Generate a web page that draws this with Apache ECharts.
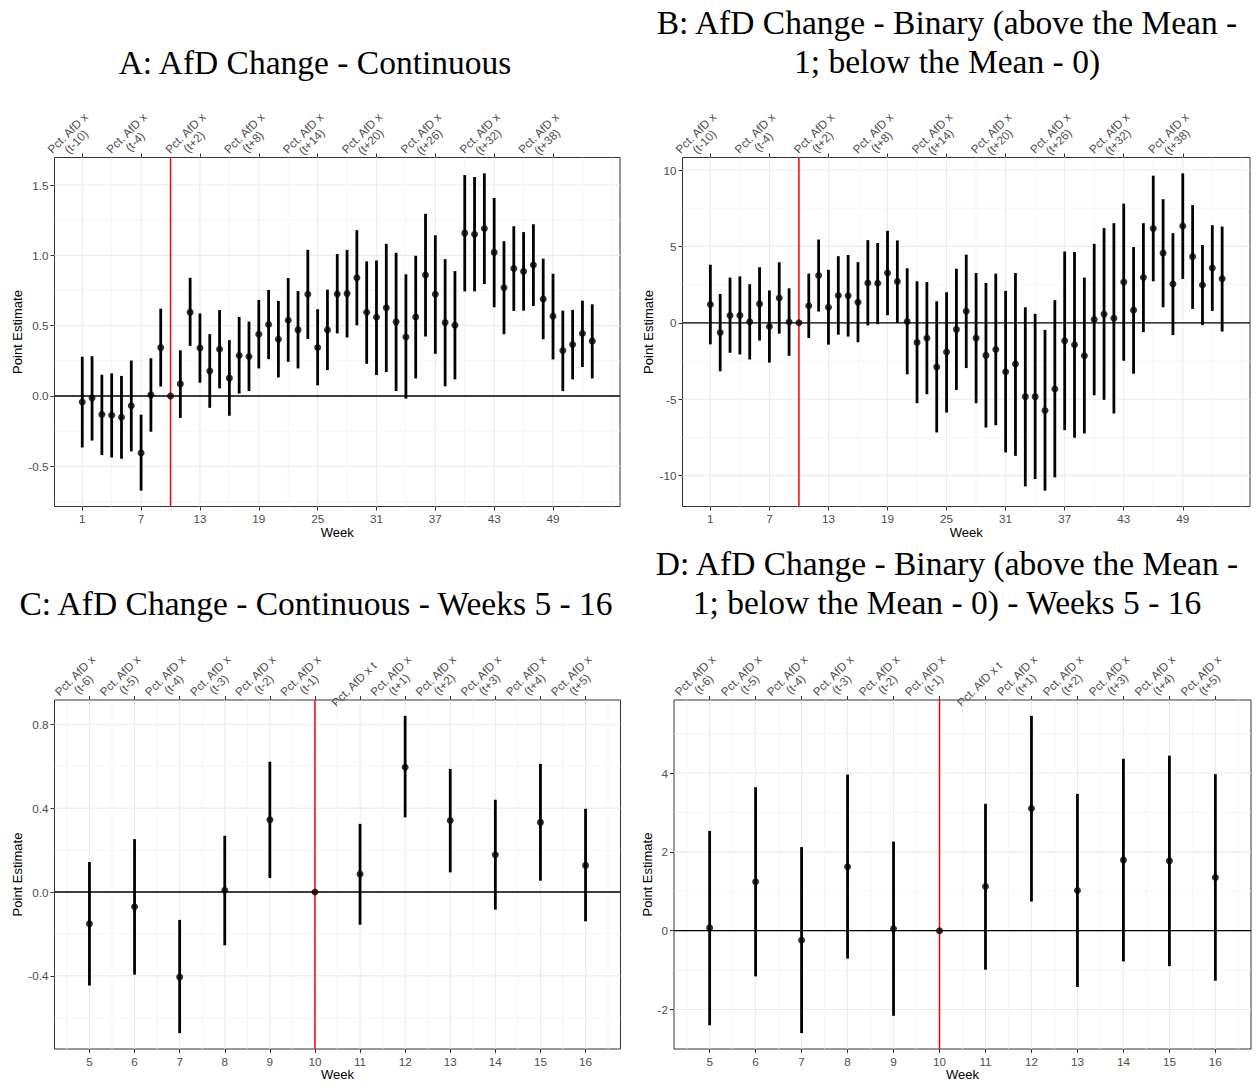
<!DOCTYPE html>
<html>
<head>
<meta charset="utf-8">
<script src="https://cdn.jsdelivr.net/npm/echarts@6/dist/echarts.min.js"></script>
<style>
html,body{margin:0;padding:0;background:#ffffff;}
#chart{width:1257px;height:1088px;}
</style>
</head>
<body>
<div id="chart"></div>
<script>
// ---------- DATA ----------
const weeksAB = [1,2,3,4,5,6,7,8,9,10,11,12,13,14,15,16,17,18,19,20,21,22,23,24,25,26,27,28,29,30,31,32,33,34,35,36,37,38,39,40,41,42,43,44,45,46,47,48,49,50,51,52,53];
const weeksCD = [5,6,7,8,9,10,11,12,13,14,15,16];

// Panel A: continuous, point estimate and 95% CI
const estA = [-0.043,-0.014,-0.132,-0.137,-0.151,-0.070,-0.405,0.008,0.344,0,0.086,0.595,0.341,0.178,0.332,0.127,0.288,0.281,0.439,0.508,0.404,0.539,0.470,0.723,0.345,0.470,0.725,0.728,0.841,0.595,0.560,0.628,0.527,0.420,0.562,0.860,0.723,0.522,0.503,1.158,1.150,1.191,1.021,0.770,0.907,0.886,0.931,0.690,0.567,0.324,0.366,0.444,0.390];
const loA  = [-0.366,-0.317,-0.420,-0.437,-0.446,-0.394,-0.673,-0.254,0.067,0,-0.156,0.356,0.094,-0.084,0.054,-0.140,0.017,0.035,0.196,0.262,0.132,0.243,0.196,0.406,0.076,0.184,0.445,0.416,0.503,0.229,0.149,0.170,0.035,-0.019,0.125,0.423,0.300,0.069,0.118,0.744,0.744,0.796,0.631,0.439,0.605,0.607,0.640,0.404,0.260,0.035,0.118,0.206,0.125];
const hiA  = [0.279,0.283,0.151,0.161,0.143,0.252,-0.133,0.268,0.621,0,0.325,0.840,0.587,0.440,0.611,0.397,0.562,0.529,0.683,0.754,0.676,0.839,0.746,1.039,0.617,0.756,1.009,1.039,1.179,0.957,0.964,1.082,1.018,0.865,0.997,1.295,1.143,0.973,0.888,1.571,1.557,1.583,1.408,1.101,1.207,1.165,1.221,0.976,0.869,0.607,0.612,0.678,0.652];

// Panel B: binary
const estB = [1.20,-0.63,0.48,0.48,0.07,1.24,-0.245,1.62,0.05,0,1.12,3.10,1.02,1.79,1.77,1.35,2.61,2.59,3.26,2.70,0.09,-1.28,-1.00,-2.89,-1.91,-0.43,0.76,-1.00,-2.13,-1.74,-3.20,-2.70,-4.83,-4.83,-5.74,-4.33,-1.17,-1.43,-2.15,0.22,0.57,0.30,2.67,0.83,2.96,6.17,4.57,2.54,6.33,4.33,2.48,3.59,2.89];
const loB  = [-1.41,-3.17,-1.96,-2.07,-2.40,-1.16,-2.60,-0.71,-2.16,0,-0.99,0.74,-1.43,-0.78,-0.90,-1.27,-0.17,-0.09,0.50,0.00,-3.37,-5.26,-4.67,-7.17,-5.87,-4.39,-2.96,-5.26,-6.85,-6.70,-8.48,-8.70,-10.70,-10.22,-10.98,-10.11,-7.02,-7.52,-7.24,-4.74,-5.04,-5.93,-2.48,-3.33,-0.61,2.72,1.02,-0.80,2.87,0.91,-0.15,0.78,-0.57];
const hiB  = [3.80,1.89,2.96,3.04,2.53,3.64,2.12,3.96,2.26,0,3.22,5.45,3.47,4.36,4.44,3.97,5.41,5.22,6.02,5.39,3.57,2.72,2.67,1.41,2.00,3.54,4.46,3.26,2.61,3.22,2.09,3.26,1.02,0.59,-0.46,1.48,4.67,4.63,2.96,5.17,6.20,6.52,7.80,4.96,6.52,9.63,8.09,5.87,9.78,7.70,5.09,6.39,6.30];

// Panel C: continuous, weeks 5-16
const estC = [-0.151,-0.070,-0.405,0.008,0.344,0,0.086,0.595,0.341,0.178,0.332,0.127];
const loC  = [-0.446,-0.394,-0.673,-0.254,0.067,0,-0.156,0.356,0.094,-0.084,0.054,-0.140];
const hiC  = [0.143,0.252,-0.133,0.268,0.621,0,0.325,0.840,0.587,0.440,0.611,0.397];

// Panel D: binary, weeks 5-16
const estD = [0.07,1.24,-0.245,1.62,0.05,0,1.12,3.10,1.02,1.79,1.77,1.35];
const loD  = [-2.40,-1.16,-2.60,-0.71,-2.16,0,-0.99,0.74,-1.43,-0.78,-0.90,-1.27];
const hiD  = [2.53,3.64,2.12,3.96,2.26,0,3.22,5.45,3.47,4.36,4.44,3.97];

// Tick breaks and labels
const xTicksAB = [1,7,13,19,25,31,37,43,49];
const xMinorAB = [4,10,16,22,28,34,40,46,52,55];
const topLabelsAB = ['Pct. AfD x\n(t-10)','Pct. AfD x\n(t-4)','Pct. AfD x\n(t+2)','Pct. AfD x\n(t+8)','Pct. AfD x\n(t+14)','Pct. AfD x\n(t+20)','Pct. AfD x\n(t+26)','Pct. AfD x\n(t+32)','Pct. AfD x\n(t+38)'];
const xTicksCD = [5,6,7,8,9,10,11,12,13,14,15,16];
const xMinorCD = [4.5,5.5,6.5,7.5,8.5,9.5,10.5,11.5,12.5,13.5,14.5,15.5,16.5];
const topLabelsCD = ['Pct. AfD x\n(t-6)','Pct. AfD x\n(t-5)','Pct. AfD x\n(t-4)','Pct. AfD x\n(t-3)','Pct. AfD x\n(t-2)','Pct. AfD x\n(t-1)','Pct. AfD x t','Pct. AfD x\n(t+1)','Pct. AfD x\n(t+2)','Pct. AfD x\n(t+3)','Pct. AfD x\n(t+4)','Pct. AfD x\n(t+5)'];
const yTicksA = [-0.5,0,0.5,1,1.5];
const yMinorA = [-0.75,-0.25,0.25,0.75,1.25];
const yTicksB = [-10,-5,0,5,10];
const yMinorB = [-7.5,-2.5,2.5,7.5];
const yTicksC = [-0.4,0,0.4,0.8];
const yMinorC = [-0.6,-0.2,0.2,0.6];
const yTicksD = [-2,0,2,4];
const yMinorD = [-1,1,3,5];
const refWeek = 10;

const titles = [
  {text:'A: AfD Change - Continuous', x:315, y:62},
  {text:'B: AfD Change - Binary (above the Mean -\n1; below the Mean - 0)', x:947, y:41.5},
  {text:'C: AfD Change - Continuous - Weeks 5 - 16', x:316, y:603},
  {text:'D: AfD Change - Binary (above the Mean -\n1; below the Mean - 0) - Weeks 5 - 16', x:947, y:582.5}
];

// ---------- LAYOUT ----------
const SANS = 'Liberation Sans, Arial, sans-serif';
const SERIF = 'Liberation Serif, Times New Roman, serif';
const panels = [
  {grid:{left:54.5, top:157.5, width:565.5, height:349}, weeks:weeksAB, est:estA, lo:loA, hi:hiA,
   xRange:[-1.83,55.83], xTicks:xTicksAB, xMinor:xMinorAB, top:topLabelsAB, yTicks:yTicksA, yMinor:yMinorA, dec:1, yGap:30, xGap:19},
  {grid:{left:682.5, top:157.5, width:567.5, height:349}, weeks:weeksAB, est:estB, lo:loB, hi:hiB,
   xRange:[-1.83,55.83], xTicks:xTicksAB, xMinor:xMinorAB, top:topLabelsAB, yTicks:yTicksB, yMinor:yMinorB, dec:0, yGap:28, xGap:19},
  {grid:{left:54.5, top:700, width:566, height:349}, weeks:weeksCD, est:estC, lo:loC, hi:hiC,
   xRange:[4.225,16.775], xTicks:xTicksCD, xMinor:xMinorCD, top:topLabelsCD, yTicks:yTicksC, yMinor:yMinorC, dec:1, yGap:30, xGap:18},
  {grid:{left:674, top:700, width:577, height:349}, weeks:weeksCD, est:estD, lo:loD, hi:hiD,
   xRange:[4.225,16.775], xTicks:xTicksCD, xMinor:xMinorCD, top:topLabelsCD, yTicks:yTicksD, yMinor:yMinorD, dec:0, yGap:19.5, xGap:18}
];

const grids = [], xAxes = [], yAxes = [], series = [];
const tickColor = '#333333';
const labelColor = '#4d4d4d';

// line kinds: 0 minor vertical, 1 major vertical, 2 minor horizontal, 3 major horizontal, 4 zero line, 5 reference week
const lineStyles = {
  0:{stroke:'#f3f3f3', lineWidth:0.8},
  1:{stroke:'#ebebeb', lineWidth:1.1},
  2:{stroke:'#f3f3f3', lineWidth:0.8},
  3:{stroke:'#ebebeb', lineWidth:1.1},
  4:{stroke:'#000000', lineWidth:1.3},
  5:{stroke:'#ff0000', lineWidth:1.5}
};
function lineRenderer(xAnchor) {
  return (params, api) => {
    const v = api.value(0), kind = api.value(1);
    const cs = params.coordSys;
    let shape;
    if (kind === 0 || kind === 1 || kind === 5) {
      const x = api.coord([v, 0])[0];
      shape = {x1:x, y1:cs.y, x2:x, y2:cs.y + cs.height};
    } else {
      const y = api.coord([xAnchor, v])[1];
      shape = {x1:cs.x, y1:y, x2:cs.x + cs.width, y2:y};
    }
    return {type:'line', shape:shape, style:Object.assign({lineCap:'butt'}, lineStyles[kind])};
  };
}

panels.forEach((p, i) => {
  const mn = Math.min(0, ...p.lo, ...p.est);
  const mx = Math.max(0, ...p.hi, ...p.est);
  const pad = (mx - mn) * 0.05;
  const yMin = mn - pad, yMax = mx + pad;

  grids.push(Object.assign({show:true, borderColor:'#333333', borderWidth:1, backgroundColor:'#ffffff', containLabel:false, outerBoundsMode:'none'}, p.grid));

  // bottom x axis
  xAxes.push({
    gridIndex:i, type:'value', position:'bottom', min:p.xRange[0], max:p.xRange[1],
    axisLine:{show:false, onZero:false}, splitLine:{show:false},
    axisTick:{show:true, customValues:p.xTicks, length:4, lineStyle:{color:tickColor, width:1}},
    axisLabel:{customValues:p.xTicks, color:labelColor, fontSize:11.7, fontFamily:SANS, margin:6,
               formatter:(v)=>String(Math.round(v))},
    name:'Week', nameLocation:'middle', nameGap:p.xGap,
    nameTextStyle:{color:'#000000', fontSize:13, fontFamily:SANS}
  });
  // top x axis (secondary labels)
  xAxes.push({
    gridIndex:i, type:'value', position:'top', min:p.xRange[0], max:p.xRange[1],
    axisLine:{show:false, onZero:false}, splitLine:{show:false},
    axisTick:{show:true, customValues:p.xTicks, length:4, lineStyle:{color:tickColor, width:1}},
    axisLabel:{customValues:p.xTicks, color:labelColor, fontSize:11.7, fontFamily:SANS, margin:14,
               rotate:-45, align:'center', verticalAlign:'bottom', lineHeight:12, padding:[0,6,0,0],
               formatter:(v)=>{ const k = p.xTicks.findIndex(t => Math.abs(t - v) < 1e-6); return k >= 0 ? p.top[k] : ''; }}
  });
  yAxes.push({
    gridIndex:i, type:'value', min:yMin, max:yMax,
    axisLine:{show:false, onZero:false}, splitLine:{show:false},
    axisTick:{show:true, customValues:p.yTicks, length:4, lineStyle:{color:tickColor, width:1}},
    axisLabel:{customValues:p.yTicks, color:labelColor, fontSize:11.7, fontFamily:SANS, margin:6,
               formatter:(v)=>Number(v).toFixed(p.dec)},
    name:'Point Estimate', nameLocation:'middle', nameGap:p.yGap,
    nameTextStyle:{color:'#000000', fontSize:13, fontFamily:SANS}
  });

  const xi = i*2, yi = i;
  const gridData = [];
  p.xMinor.forEach(v => gridData.push([v, 0]));
  p.yMinor.forEach(v => gridData.push([v, 2]));
  p.xTicks.forEach(v => gridData.push([v, 1]));
  p.yTicks.forEach(v => gridData.push([v, 3]));

  series.push({
    type:'custom', xAxisIndex:xi, yAxisIndex:yi, z:1, animation:false, silent:true, clip:false,
    data:gridData, encode:{x:0, y:1}, renderItem:lineRenderer(p.xRange[0])
  });
  series.push({
    type:'custom', xAxisIndex:xi, yAxisIndex:yi, z:2, animation:false, silent:true, clip:false,
    data:[[0, 4], [refWeek, 5]], encode:{x:0, y:1}, renderItem:lineRenderer(p.xRange[0])
  });
  series.push({
    type:'custom', xAxisIndex:xi, yAxisIndex:yi, z:3, animation:false, silent:true,
    data:p.weeks.map((w,k)=>[w, p.lo[k], p.hi[k]]),
    encode:{x:0, y:[1,2]},
    renderItem:(params, api) => {
      const a = api.coord([api.value(0), api.value(1)]);
      const b = api.coord([api.value(0), api.value(2)]);
      return {type:'line', shape:{x1:a[0], y1:a[1], x2:b[0], y2:b[1]},
              style:{stroke:'#000000', lineWidth:2.8, lineCap:'butt'}};
    }
  });
  series.push({
    type:'scatter', xAxisIndex:xi, yAxisIndex:yi, z:4, animation:false, silent:true,
    data:p.weeks.map((w,k)=>[w, p.est[k]]), symbol:'circle', symbolSize:7,
    itemStyle:{color:'#000000'}
  });
});

const graphic = titles.map(t => ({
  type:'text', x:t.x, y:t.y, silent:true,
  style:{text:t.text, fontFamily:SERIF, fontSize:33.5, lineHeight:39, fill:'#000000',
         textAlign:'center', textVerticalAlign:'middle', align:'center', verticalAlign:'middle'}
}));

const chart = echarts.init(document.getElementById('chart'), null, {renderer:'svg', width:1257, height:1088});
chart.setOption({
  backgroundColor:'#ffffff',
  animation:false,
  grid:grids, xAxis:xAxes, yAxis:yAxes, series:series, graphic:graphic
});
</script>
</body>
</html>
